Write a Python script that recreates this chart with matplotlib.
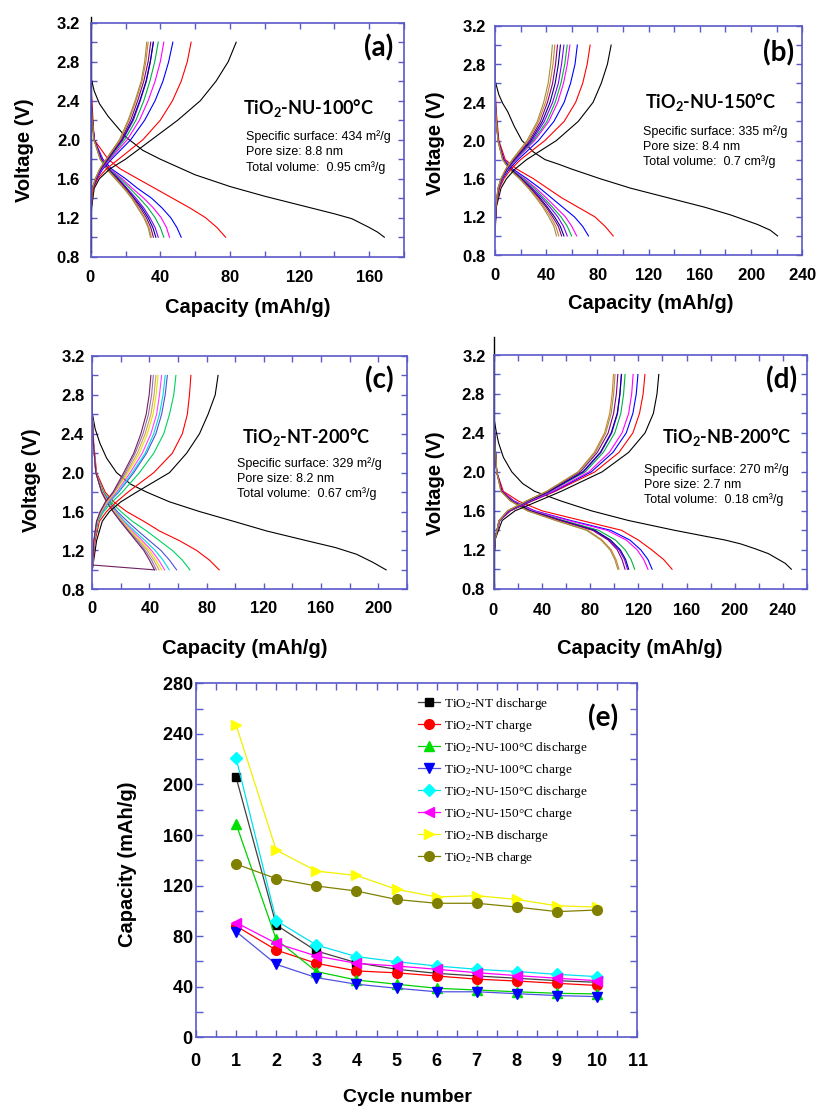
import numpy as np
import matplotlib
matplotlib.use('Agg')
import matplotlib.pyplot as plt
from matplotlib import font_manager as fm
from matplotlib.ticker import MultipleLocator, FuncFormatter


def weight_of(entry):
    w = entry.weight
    if isinstance(w, str):
        w = {'bold': 700, 'heavy': 800, 'black': 900, 'semibold': 600,
             'demibold': 600, 'extra bold': 800}.get(w.lower(), 400)
    return w


def first_with_bold(names):
    for n in names:
        if any(f.name == n and weight_of(f) >= 600 for f in fm.fontManager.ttflist):
            return n
    return 'DejaVu Sans'


SANS = first_with_bold(['Liberation Sans', 'Arimo', 'Roboto', 'Noto Sans', 'Open Sans'])
plt.rcParams['font.family'] = [SANS, 'DejaVu Sans']
plt.rcParams['font.weight'] = 'bold'
plt.rcParams['axes.labelweight'] = 'bold'
plt.rcParams['mathtext.default'] = 'regular'
plt.rcParams['mathtext.fontset'] = 'custom'
plt.rcParams['mathtext.bf'] = SANS + ':bold'

# voltage levels at which the capacity of the later cycles was read (V)
v_dis = [3.0, 2.6, 2.3, 2.0, 1.8, 1.7, 1.6, 1.5, 1.4, 1.3, 1.2, 1.1, 1.0]
v_chg = [1.0, 1.3, 1.5, 1.6, 1.7, 1.8, 2.0, 2.2, 2.4, 2.6, 2.8, 3.0]

# (a) TiO2-NU-100C, capacity (mAh/g)
first_a_cap = [0, 2, 5, 10, 20, 30, 40, 60, 80, 100, 120, 140, 150, 160, 165, 168.7]
first_a_v = [2.65, 2.5, 2.37, 2.24, 2.03, 1.89, 1.8, 1.64, 1.52, 1.42, 1.33, 1.24, 1.19, 1.1, 1.05, 1.0]
dis_a = [
    [0, 0, 1, 2, 10, 17, 27, 37, 47, 57, 66, 72.5, 77.5],
    [0, 0, 0.5, 2, 7, 12, 20, 27, 35, 41, 46, 49.5, 52],
    [0, 0, 0.5, 2, 6.5, 11, 18, 24, 30.5, 36, 40.5, 43.5, 45.3],
    [0, 0, 0.5, 2, 6, 10.5, 17, 22.5, 28, 33, 37, 40, 42],
    [0, 0, 0.5, 2, 6, 10, 16, 21, 26, 30.5, 34, 37, 38.8],
    [0, 0, 0.5, 2, 6, 10, 15.5, 20.5, 25, 29.5, 33, 35.7, 37.4],
    [0, 0, 0.5, 2, 5.5, 9.5, 15, 20, 24.5, 28.5, 32, 34.5, 36],
    [0, 0, 0.5, 1.8, 5.5, 9.5, 14.5, 19.5, 24, 27.5, 31, 33.5, 34.8],
    [0, 0, 0.5, 1.8, 5.5, 9, 14, 19, 23.5, 27, 30.5, 33, 34.3],
]
chg_a = [
    [0, 0.5, 2, 5, 11, 20, 35, 50, 63, 72, 79, 83.6],
    [0, 0.3, 1.5, 4, 9, 16, 30, 40, 47, 52, 55.5, 57.7],
    [0, 0.3, 1.2, 3.5, 7, 12, 23, 31, 37, 41.5, 44.8, 47.2],
    [0, 0.3, 1.1, 3.2, 6.5, 11, 21, 28, 33, 37, 40, 42],
    [0, 0.3, 1, 3, 6, 10.5, 19.5, 26, 30.5, 34, 36.8, 38.8],
    [0, 0.3, 1, 3, 6, 10, 18.5, 24.5, 28.5, 32, 34.3, 36],
    [0, 0.3, 1, 2.9, 5.7, 9.8, 18, 24, 28.2, 31.8, 34.2, 36],
    [0, 0.3, 1, 2.8, 5.5, 9.5, 17.5, 23, 27, 30.5, 33, 34.5],
    [0, 0.3, 1, 2.7, 5.3, 9, 17, 22, 26, 29.5, 31.7, 33],
    [0, 0.3, 0.9, 2.6, 5.1, 8.8, 16.5, 21.5, 25.5, 29, 31, 32.2],
]

# (b) TiO2-NU-150C
first_b_cap = [0, 3, 6, 10, 15, 21, 30, 39, 50, 60, 82, 106, 135, 164, 184, 205, 215, 220.7]
first_b_v = [2.63, 2.48, 2.39, 2.3, 2.15, 2.0, 1.88, 1.8, 1.75, 1.7, 1.6, 1.5, 1.4, 1.3, 1.22, 1.12, 1.06, 1.0]
dis_b = [
    [0, 0, 1, 3, 8, 17, 30, 41, 52, 65, 78, 86, 92.3],
    [0, 0, 0.5, 2.5, 7, 14, 25, 35, 44, 53, 62, 68.5, 73],
    [0, 0, 0.5, 2.5, 7, 13, 23, 32, 40, 47.5, 55, 60, 63.8],
    [0, 0, 0.5, 2.5, 6.5, 12.5, 22, 30.5, 38, 45, 51.5, 56.5, 59.8],
    [0, 0, 0.5, 2.5, 6.5, 12, 21, 29, 36.5, 43, 49, 53.5, 56.4],
    [0, 0, 0.5, 2.5, 6.5, 12, 20.5, 28, 35, 41, 46.5, 51, 53.8],
    [0, 0, 0.5, 2.3, 6, 11.5, 20, 27.5, 34, 40, 45, 49.5, 52],
    [0, 0, 0.5, 2.3, 6, 11, 19.5, 26.5, 33, 38.5, 43.5, 47.5, 49.8],
    [0, 0, 0.5, 2.3, 6, 11, 19, 26, 32, 37.5, 42, 46, 48],
]
chg_b = [
    [0, 1, 4.7, 9, 15.6, 24.7, 48, 65, 76.6, 83, 87.8, 90.7],
    [0, 0.8, 3.5, 7, 12.5, 20, 39, 54, 63, 68.5, 72, 74.3],
    [0, 0.7, 3, 6, 11, 18, 34, 46, 54, 59, 62.5, 64.3],
    [0, 0.6, 2.8, 5.5, 10, 16.5, 31, 42, 49, 53.5, 56.5, 58.5],
    [0, 0.6, 2.7, 5.3, 9.7, 16, 30, 40.5, 47, 51.5, 54.5, 56.4],
    [0, 0.6, 2.6, 5.1, 9.4, 15.5, 29, 38.5, 45, 49.5, 52, 53.8],
    [0, 0.6, 2.5, 5, 9, 15, 28, 37, 43, 47, 49.5, 51.1],
    [0, 0.6, 2.5, 4.8, 8.8, 14.5, 27, 35.5, 41, 45, 47.3, 48.8],
    [0, 0.5, 2.4, 4.7, 8.5, 14, 26, 34, 39.5, 43, 45.3, 46.7],
    [0, 0.5, 2.3, 4.6, 8.3, 13.5, 25, 33, 38, 41.5, 43.5, 44.8],
]

# (c) TiO2-NT-200C
first_c_cap = [0, 2, 5.4, 10, 17, 27, 38, 54, 75, 98.7, 122, 150, 170, 185, 196, 205.6]
first_c_v = [2.61, 2.45, 2.3, 2.15, 2.0, 1.88, 1.8, 1.7, 1.6, 1.5, 1.4, 1.3, 1.23, 1.16, 1.08, 1.0]
dis_c = [
    [0, 0, 1, 3, 9, 15, 24, 36, 47, 61, 73, 82, 88.8],
    [0, 0, 0.8, 2.5, 8, 13, 20, 28, 38, 47, 56, 63, 68.3],
    [0, 0, 0.8, 2.5, 7.5, 12, 17.5, 24.5, 32, 40, 48, 54, 59],
    [0, 0, 0.8, 2.5, 7, 11, 16.5, 22.5, 29.5, 37, 44, 49.5, 53.8],
    [0, 0, 0.8, 2.5, 7, 11, 16, 21.5, 28, 35, 41.5, 46.5, 50.6],
    [0, 0, 0.8, 2.5, 7, 10.5, 15.5, 21, 27, 33.5, 40, 44.5, 48.5],
    [0, 0, 0.8, 2.5, 6.8, 10.5, 15, 20.5, 26, 32.5, 38.5, 43, 46.7],
    [0, 0, 0.8, 2.5, 6.5, 10, 14.5, 20, 25.5, 31.5, 37, 41.5, 44.8],
    [0, 0, 0.8, 2.5, 6.5, 10, 14.5, 19.5, 25, 30.5, 36, 40, 43.5],
]
chg_c = [
    [0, 3, 7, 12, 20, 31, 54, 66, 75, 81, 86, 88],
    [0, 2, 5, 10, 17, 25, 43, 56, 63, 66.5, 68, 69],
    [0, 1.5, 4, 8, 14, 21, 33, 43, 50, 54, 57, 58.5],
    [0, 1.3, 3.5, 7, 12, 18.5, 29, 38, 44.5, 48.5, 51, 52.5],
    [0, 1.3, 3.5, 7, 11.5, 18, 28, 37, 43, 47, 49.5, 51],
    [0, 1.2, 3.3, 6.5, 11, 17, 26.5, 35, 41, 45, 47, 48.5],
    [0, 1.2, 3.2, 6.2, 10.5, 16, 25, 33, 38.5, 42.5, 44.7, 46],
    [0, 1.2, 3.1, 6, 10, 15.5, 24, 31.5, 37, 41, 43.2, 44.5],
    [0, 1.1, 3, 5.7, 9.5, 15, 23, 30, 35.5, 39.3, 41.5, 42.7],
    [0, 1.1, 3, 5.5, 9.2, 14.5, 22, 29, 34, 37.7, 39.8, 41],
]
tail_c_cap = [43.5, 0]
tail_c_v = [1.0, 1.05]

# (d) TiO2-NB-200C
first_d_cap = [0, 2, 4, 8, 15, 24, 34, 56, 81, 112, 150, 175, 192, 205, 217, 228, 235, 242, 247]
first_d_v = [2.57, 2.42, 2.3, 2.15, 2.0, 1.88, 1.8, 1.7, 1.6, 1.5, 1.4, 1.34, 1.3, 1.26, 1.21, 1.16, 1.11, 1.06, 1.0]
dis_d = [
    [0, 0, 1, 2.5, 8, 20.5, 40, 73, 106, 120, 131, 141, 148],
    [0, 0, 1, 2.5, 7, 17, 34, 64, 97, 113, 122, 128, 131.5],
    [0, 0, 1, 2.5, 7, 16.5, 33, 62, 94, 110, 119, 124.5, 128],
    [0, 0, 1, 2.5, 6.5, 15.5, 31, 58, 87, 101, 109, 114, 117],
    [0, 0, 1, 2.5, 6.5, 15, 30, 56, 83, 96, 104, 108.5, 111],
    [0, 0, 1, 2.5, 6.5, 15, 30, 56, 84, 97, 105, 109.5, 112],
    [0, 0, 1, 2.5, 6.5, 15, 29.5, 55, 82, 95, 102.5, 106.5, 109],
    [0, 0, 1, 2.5, 6, 14, 28, 52, 78, 90, 97.5, 101.5, 104],
    [0, 0, 1, 2.5, 6, 14, 28, 51.5, 77, 89, 96.5, 100.5, 103],
]
chg_d = [
    [0, 1, 7, 17.7, 37, 56, 90, 112, 125.6, 132.5, 135.5, 137],
    [0, 1, 5, 14, 32, 51, 84, 104, 115.5, 121, 124, 125.5],
    [0, 1, 5, 13.5, 31, 50, 81, 99, 110, 115.5, 118.3, 119.7],
    [0, 1, 5, 13, 30, 49, 79, 96, 106.5, 112, 114.5, 115.7],
    [0, 1, 4.5, 12.5, 29, 47, 76, 91, 100.5, 105.5, 107.8, 109],
    [0, 1, 4.5, 12.5, 28.5, 46.5, 74.5, 89, 98, 102.8, 104.8, 106],
    [0, 1, 4.5, 12, 28, 46, 74, 88.5, 97.5, 102.5, 104.7, 106],
    [0, 1, 4.5, 12, 27.5, 45, 72, 86, 95, 99.5, 101.8, 103],
    [0, 1, 4.5, 11.5, 27, 44, 70, 83.5, 92, 96.3, 98.3, 99.4],
    [0, 1, 4.5, 11.5, 27, 44, 70.5, 84.5, 93, 97.5, 99.5, 100.7],
]

# (e) capacity vs cycle number
cycles = [1, 2, 3, 4, 5, 6, 7, 8, 9, 10]
nt_dis = [205.6, 88.8, 68.3, 59, 53.8, 50.6, 48.5, 46.7, 44.8, 43.5]
nt_chg = [88, 69, 58.5, 52.5, 51, 48.5, 46, 44.5, 42.7, 41]
nu100_dis = [168.7, 77.5, 52, 45.3, 42, 38.8, 37.4, 36, 34.8, 34.3]
nu100_chg = [83.6, 57.7, 47.2, 42, 38.8, 36, 36, 34.5, 33, 32.2]
nu150_dis = [220.7, 92.3, 73, 63.8, 59.8, 56.4, 53.8, 52, 49.8, 48]
nu150_chg = [90.7, 74.3, 64.3, 58.5, 56.4, 53.8, 51.1, 48.8, 46.7, 44.8]
nb_dis = [247, 148, 131.5, 128, 117, 111, 112, 109, 104, 103]
nb_chg = [137, 125.5, 119.7, 115.7, 109, 106, 106, 103, 99.4, 100.7]

colors_std = ['black', 'red', 'blue', 'magenta', '#00b040', '#8000ff',
              '#000090', '#800080', '#d08030', '#a09040']
colors_c = ['black', 'red', '#00d060', '#5050d0', '#00d8e8', '#ff40ff',
            '#e8e000', '#d0a060', '#9070b0', '#702060']

frame = '#5a5ac8'
W, H = 829, 1106

bold1 = FuncFormatter(lambda v, p: r'$\mathbf{%.1f}$' % v)
bold0 = FuncFormatter(lambda v, p: r'$\mathbf{%d}$' % round(v))


def fx(x):
    return x / W


def fy(y):
    return 1 - y / H


def box(left, top, right, bottom):
    return [fx(left), fy(bottom), (right - left) / W, (bottom - top) / H]


def style(ax, xmax, xpad, ypad):
    ax.set_xlim(0, xmax)
    ax.set_ylim(0.8, 3.2)
    ax.xaxis.set_major_locator(MultipleLocator(40))
    ax.xaxis.set_minor_locator(MultipleLocator(20))
    ax.yaxis.set_major_locator(MultipleLocator(0.4))
    ax.yaxis.set_minor_locator(MultipleLocator(0.2))
    ax.xaxis.set_major_formatter(bold0)
    ax.yaxis.set_major_formatter(bold1)
    for s in ax.spines.values():
        s.set_color(frame)
        s.set_linewidth(1.2)
    ax.tick_params(which='both', direction='in', top=True, right=True,
                   color=frame, length=4, width=1)
    ax.tick_params(axis='x', pad=xpad, labelsize=12)
    ax.tick_params(axis='y', pad=ypad, labelsize=12)


fig = plt.figure(figsize=(W / 100, H / 100), dpi=100)

panels = [
    (first_a_cap, first_a_v, dis_a, chg_a, colors_std, (90.7, 22.7, 404, 256.7),
     180, 9, 7, (0.5, -0.215), (-0.21, 0.456), '(a)', (379, 48),
     'TiO$_2$-NU-100°C', (243, 108),
     ['Specific surface: 434 m²/g', 'Pore size: 8.8 nm', 'Total volume:  0.95 cm³/g'],
     (246, 137, 15.3)),
    (first_b_cap, first_b_v, dis_b, chg_b, colors_std, (495, 26, 802.3, 255),
     240, 8.5, 6, (0.507, -0.21), (-0.195, 0.49), '(b)', (779, 53),
     'TiO$_2$-NU-150°C', (645, 102),
     ['Specific surface: 335 m²/g', 'Pore size: 8.4 nm', 'Total volume:  0.7 cm³/g'],
     (643, 132, 15)),
    (first_c_cap, first_c_v, dis_c, chg_c, colors_c, (92.3, 356, 406.7, 589.3),
     220, 8, 5, (0.486, -0.252), (-0.192, 0.468), '(c)', (379, 380),
     'TiO$_2$-NT-200°C', (242, 437),
     ['Specific surface: 329 m²/g', 'Pore size: 8.2 nm', 'Total volume:  0.67 cm³/g'],
     (237, 464, 15)),
    (first_d_cap, first_d_v, dis_d, chg_d, colors_std, (493.7, 355, 807, 588.7),
     260, 9.5, 5.5, (0.467, -0.254), (-0.187, 0.452), '(d)', (782, 380),
     'TiO$_2$-NB-200°C', (662, 437),
     ['Specific surface: 270 m²/g', 'Pore size: 2.7 nm', 'Total volume:  0.18 cm³/g'],
     (644, 470, 15)),
]

axes = []
for (fcap, fv, dis, chg, cols, fr, xmax, xpad, ypad, xl, yl, letter, lpos,
     title, tpos, spec, spos) in panels:
    ax = fig.add_axes(box(*fr))
    ax.plot(fcap, fv, color=cols[0], lw=0.8)
    for i in range(len(dis)):
        ax.plot(dis[i], v_dis, color=cols[i + 1], lw=0.8)
    for i in range(len(chg)):
        ax.plot(chg[i], v_chg, color=cols[i], lw=0.8)
    style(ax, xmax, xpad, ypad)
    ax.set_xlabel('Capacity (mAh/g)', fontsize=14.5, fontweight='bold', va='center')
    ax.xaxis.set_label_coords(*xl)
    ax.set_ylabel('Voltage (V)', fontsize=14.5, fontweight='bold', va='center')
    ax.yaxis.set_label_coords(*yl)
    fig.text(fx(lpos[0]), fy(lpos[1]), letter, fontsize=20,
             family=['Lato', 'DejaVu Sans'], ha='center', va='center')
    fig.text(fx(tpos[0]), fy(tpos[1]), title, fontsize=13,
             family=['Lato', 'DejaVu Sans'], ha='left', va='center')
    for k, line in enumerate(spec):
        fig.text(fx(spos[0]), fy(spos[1] + k * spos[2]), line, fontsize=9,
                 weight='normal', ha='left', va='center')
    axes.append(ax)

axes[2].plot(tail_c_cap, tail_c_v, color='#702060', lw=0.8)

# left edge lines that run past the frame in (a) and (d)
edge_a = [0.85, 3.26]
edge_d = [0.8, 3.38]
axes[0].plot([0, 0], edge_a, color='black', lw=1.0, clip_on=False)
axes[3].plot([0, 0], edge_d, color='black', lw=1.0, clip_on=False)

# (e)
ax = fig.add_axes(box(196, 683.3, 637.3, 1037.3))
series = [
    (nt_dis, 'TiO$_2$-NT discharge', 's', 'black', '#404040'),
    (nt_chg, 'TiO$_2$-NT charge', 'o', 'red', 'red'),
    (nu100_dis, 'TiO$_2$-NU-100°C discharge', '^', '#00e000', '#00d000'),
    (nu100_chg, 'TiO$_2$-NU-100°C charge', 'v', 'blue', '#5050e0'),
    (nu150_dis, 'TiO$_2$-NU-150°C discharge', 'D', 'cyan', '#00e0f0'),
    (nu150_chg, 'TiO$_2$-NU-150°C charge', '<', 'magenta', 'magenta'),
    (nb_dis, 'TiO$_2$-NB discharge', '>', '#ffff00', '#f0f000'),
    (nb_chg, 'TiO$_2$-NB charge', 'o', '#808000', '#808000'),
]
for vals, lab, mk, mc, lc in series:
    ms = 6 if mk in ('s', 'D') else 7
    ax.plot(cycles, vals, color=lc, lw=0.9, marker=mk, ms=ms,
            markerfacecolor=mc, markeredgecolor=mc, label=lab)
ax.set_xlim(0, 11)
ax.set_ylim(0, 280)
ax.xaxis.set_major_locator(MultipleLocator(1))
ax.xaxis.set_minor_locator(MultipleLocator(0.5))
ax.yaxis.set_major_locator(MultipleLocator(40))
ax.yaxis.set_minor_locator(MultipleLocator(20))
ax.xaxis.set_major_formatter(bold0)
ax.yaxis.set_major_formatter(bold0)
for s in ax.spines.values():
    s.set_color(frame)
    s.set_linewidth(1.2)
ax.tick_params(which='both', direction='in', top=True, right=True,
               color=frame, length=5, width=1)
ax.tick_params(axis='x', pad=11, labelsize=13)
ax.tick_params(axis='y', pad=2, labelsize=13)
ax.set_xlabel('Cycle number', fontsize=14, fontweight='bold', va='center')
ax.xaxis.set_label_coords(0.48, -0.169)
ax.set_ylabel('Capacity (mAh/g)', fontsize=14.5, fontweight='bold', va='center')
ax.yaxis.set_label_coords(-0.156, 0.49)
fig.text(fx(603), fy(718), '(e)', fontsize=20, family=['Lato', 'DejaVu Sans'],
         ha='center', va='center')
ax.legend(loc='upper left', bbox_to_anchor=(fx(418), fy(696)),
          bbox_transform=fig.transFigure, frameon=False,
          prop={'family': 'Liberation Serif', 'weight': 'normal', 'size': 9.5},
          handlelength=1.7, handletextpad=0.3, labelspacing=0.45,
          borderpad=0, borderaxespad=0)

fig.savefig('out.png', dpi=100)
